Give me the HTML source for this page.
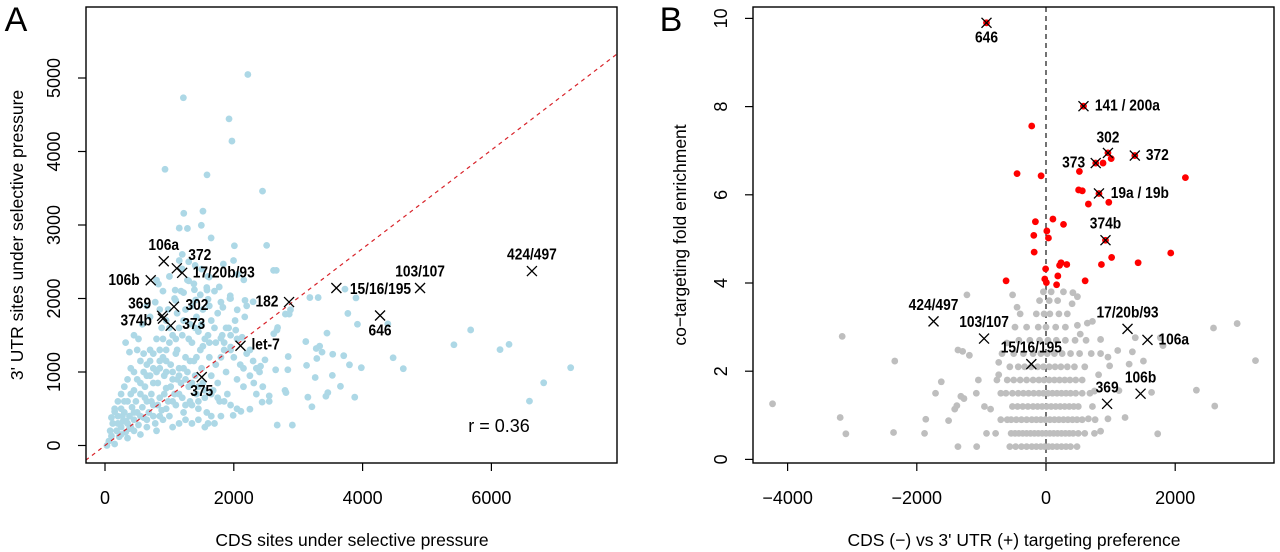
<!DOCTYPE html>
<html><head><meta charset="utf-8">
<style>
html,body{margin:0;padding:0;background:#fff;}
svg{display:block;font-family:"Liberation Sans",Arial,sans-serif;}
.tk{font-size:18px;fill:#000;}
.tt{font-size:17.5px;fill:#000;}
.lb{font-size:16px;font-weight:bold;fill:#000;}
</style></head>
<body>
<svg id="fig" width="1280" height="552" viewBox="0 0 1280 552" xmlns="http://www.w3.org/2000/svg">
</svg>
<script>
// ---------- Panel A data ----------
const aXTicks = [0, 2000, 4000, 6000];
const aYTicks = [0, 1000, 2000, 3000, 4000, 5000];
const aDiagSlope = 0.67;
const aCorrText = "r = 0.36";
const aPoints = [
[2218,5048],[1217,4731],[1926,4444],[1971,4142],[932,3758],[1584,3682],[2446,3461],[1223,3159],[1521,3188],[1153,2958],[1280,2953],[1496,2996],[1648,2824],[2009,2718],[2510,2723],[1996,2517],[1838,2469],[1153,2517],[1198,2402],[2155,2253],[2617,2383],[2660,2383],[2060,2330],[1616,2292],[830,2196],[1300,2240],[1774,2157],[1388,2119],[1220,2080],[1945,2037],[1940,2000],[1584,2114],[1090,2114],[1096,1975],[1407,1980],[1600,1990],[2174,1975],[2300,1956],[2200,1900],[1830,1880],[2053,1846],[2801,1788],[2860,1788],[2880,1846],[3181,2013],[3310,2013],[3726,2128],[3897,2008],[3771,1797],[3920,1650],[4392,1654],[3447,1529],[5418,1371],[5678,1572],[6134,1304],[6274,1376],[4474,1194],[4632,1045],[3980,1059],[3796,1098],[3707,1222],[3536,1242],[3333,1352],[3370,1270],[3280,1320],[3118,1414],[3289,1184],[3530,954],[3656,805],[3878,657],[3460,719],[3430,670],[3150,657],[3213,527],[3264,925],[3130,1090],[7231,1059],[6812,853],[6591,604],[2909,278],[2674,278],[2440,590],[2550,675],[2250,494],[2110,465],[1990,410],[2415,1079],[2310,850],[2484,1165],[2650,1030],[2839,1031],[2845,1210],[2795,750],[2810,720],[2670,1570],[2680,1605],[2620,1520],[2030,1570],[2129,1472],[1950,1340],[1800,1460],[1880,1600],[2170,1750],
[30,0],[60,60],[100,130],[150,20],[180,200],[220,120],[250,250],[200,400],[280,330],[320,180],[350,300],[300,450],[380,400],[400,250],[420,520],[450,350],[480,600],[500,450],[520,280],[550,700],[580,520],[600,380],[620,800],[650,600],[680,450],[700,950],[720,700],[750,550],[780,300],[800,1000],[820,850],[850,650],[880,480],[900,1200],[920,950],[950,780],[980,600],[1000,400],[1020,1100],[1050,900],[1080,700],[1100,550],[1120,1300],[1150,1050],[1180,850],[1200,650],[1220,450],[1250,1200],[1280,1000],[1300,800],[1320,600],[1350,1400],[1380,1150],[1400,950],[1420,700],[1450,500],[1480,1300],[1500,1050],[1520,850],[1550,650],[1580,450],[1600,1500],[1620,1200],[1650,950],[1680,750],[1700,300],[1720,1100],[1750,850],[1780,600],[1800,400],[1850,1300],[1880,1000],[1900,700],[1950,1500],[2000,1200],[2050,900],[2100,1100],[2150,800],[2200,1250],[2250,950],[2300,1150],[2350,700],[2400,1000],
[100,380],[150,460],[200,300],[250,150],[300,600],[350,100],[400,700],[450,200],[500,900],[550,150],[600,1000],[650,250],[700,1150],[750,850],[800,200],[850,1300],[900,350],[950,1150],[1000,1400],[1050,250],[1100,1450],[1150,300],[1200,1500],[1300,1450],[1400,1600],[1500,1650],[1600,300],[1700,1600],[1800,1200],[1100,1250],[1000,1600],[900,1450],[800,1450],[700,1300],[600,1250],[500,1300],[400,1050],[350,900],[300,800],[250,700],[200,600],[150,500],[120,300],[80,200],[450,1000],[550,1150],[650,1100],[750,1050],[850,1050],[950,1000],[1050,1000],[1150,950],[1250,900],[1350,850],[1450,800],[1550,750],[1650,700],[1750,650],[1850,600],[1950,550],[2050,500],[1250,350],[1350,300],[1450,350],[1550,250],[1650,400],[1350,550],[1450,600],[1250,550],[1150,700],[1050,600],[950,500],[850,400],[750,400],[650,350],[550,400],[450,450],[380,230],[330,330],[270,400],[620,650],[720,600],[820,550],[920,700],[1020,800],[1120,900],[1220,1050],[1320,1150],[1420,1200],[1520,1350],[1620,1400],[1720,1400],[1820,1500],[1920,1600],[2020,1700],[1120,1800],[1220,1700],[1320,1650],[1420,1750],[1520,1850],[1620,1900],[950,1300],[850,1150],[750,1250],[650,950],[550,850],[450,750],[350,600],[250,500],[1480,2050],[1380,2200],[1580,2150],[1280,2250],[1180,2100],[1080,2000],[980,1850],[880,1600],
[320,1400],[380,1270],[450,1500],[520,1450],[580,1650],[650,1900],[700,1750],[780,1950],[850,1850],[950,1700],[1050,1500],[1150,1600],[1250,1850],[1350,1900],[1450,1550],[1550,1450],[1650,1700],[1750,1800],[1850,1400],[1950,1300],[2050,1450],[2150,1050],[2250,1300],[2350,1050],[2450,800],[2550,600],[1950,2000],[1800,1950],[1700,2100],[1600,2300],[1500,2400],[1400,2450],[1300,2500],[1200,2600],[1000,2300],[900,2100],[800,2250]
];
const aMarkNames = ["106a","372","17/20b/93","106b","369","374b","302","373","182","15/16/195","103/107","424/497","646","let-7","375"];
const aMarkX = [912,1115,1198,710,887,900,1071,1020,2858,3593,4892,6629,4271,2104,1502];
const aMarkY = [2507,2411,2349,2248,1764,1726,1889,1630,1951,2143,2143,2373,1769,1357,930];
// label layout (pixel offsets, not data)
const aLabelLayout = {"106a":[0,-15.5,"middle"],"372":[11.5,-13,"start"],"17/20b/93":[10.6,0,"start"],"106b":[-11,0,"end"],"369":[-22.5,-12,"middle"],"374b":[-11,2.5,"end"],"302":[11.5,-1,"start"],"373":[11.5,-1,"start"],"182":[-10.6,0,"end"],"15/16/195":[13.5,1.5,"start"],"103/107":[0,-16,"middle"],"424/497":[0,-16,"middle"],"646":[0,15.5,"middle"],"let-7":[11,-1,"start"],"375":[0,14.5,"middle"]};

// ---------- Panel B data ----------
const bXTicks = [-4000, -2000, 0, 2000];
const bYTicks = [0, 2, 4, 6, 8, 10];
const bGrey = [
[-4233,1.26],[-3155,2.79],[-3186,0.95],[-3098,0.58],[-2341,2.23],[-2360,0.61],[-1880,0.59],[-1861,0.91],[-1508,0.88],[-1710,1.5],[-1621,1.76],[-1224,3.73],[-1363,2.48],[-1290,2.45],[-1186,2.36],[-1413,1.14],[-1380,1.22],[-1318,1.43],[-1270,1.38],[-858,1.14],[-953,1.2],[-732,1.92],[-732,2.2],[-681,2.4],[-606,2.64],[-517,3.73],[-448,3.45],
[2959,3.08],[2593,2.98],[3243,2.24],[2328,1.57],[2612,1.21],[1729,0.58],[1634,1.52],[1811,2.58],[1770,2.76],[1508,2.23],[1287,2.16],[1337,2.44],[1382,2.76],[1224,0.95],[1129,1.56],[1110,2.47],[959,2.32],[985,2.12],[959,0.92],[845,0.64],[656,0.92],[719,1.2],[750,1.55],[814,1.92],[845,2.4],[845,2.72],[719,3.13],[640,3.09],[530,2.84],[486,3.04],[486,3.69],[416,3.78],[404,3.53],
[-1363,0.29],[-1073,0.29],[-560,0.29],[-470,0.29],[-380,0.29],[-300,0.29],[-220,0.29],[-150,0.29],[-80,0.29],[-20,0.29],[40,0.29],[100,0.29],[170,0.29],[240,0.29],[310,0.29],[380,0.29],[480,0.29],
[-921,0.59],[-780,0.59],[-540,0.59],[-480,0.59],[-420,0.59],[-360,0.59],[-300,0.59],[-240,0.59],[-180,0.59],[-120,0.59],[-60,0.59],[0,0.59],[60,0.59],[120,0.59],[180,0.59],[240,0.59],[300,0.59],[360,0.59],[420,0.59],[500,0.59],[600,0.59],[750,0.59],
[-700,0.9],[-600,0.9],[-540,0.9],[-460,0.9],[-380,0.9],[-300,0.9],[-220,0.9],[-150,0.9],[-80,0.9],[-10,0.9],[60,0.9],[130,0.9],[200,0.9],[270,0.9],[340,0.9],[410,0.9],[480,0.9],[560,0.9],[760,0.9],
[-520,1.2],[-440,1.2],[-360,1.2],[-280,1.2],[-200,1.2],[-130,1.2],[-60,1.2],[10,1.2],[80,1.2],[150,1.2],[220,1.2],[290,1.2],[360,1.2],[430,1.2],[500,1.2],
[-1079,1.5],[-700,1.5],[-620,1.5],[-520,1.5],[-430,1.5],[-350,1.5],[-270,1.5],[-190,1.5],[-110,1.5],[-40,1.5],[30,1.5],[100,1.5],[170,1.5],[240,1.5],[310,1.5],[380,1.5],[460,1.5],[560,1.5],[680,1.5],
[-1047,1.8],[-760,1.8],[-600,1.8],[-500,1.8],[-400,1.8],[-300,1.8],[-200,1.8],[-110,1.8],[-30,1.8],[50,1.8],[130,1.8],[210,1.8],[290,1.8],[370,1.8],[460,1.8],[560,1.8],
[-560,2.1],[-430,2.1],[-330,2.1],[-230,2.1],[-130,2.1],[-40,2.1],[50,2.1],[140,2.1],[230,2.1],[330,2.1],[440,2.1],[600,2.1],
[-500,2.4],[-350,2.4],[-200,2.4],[-80,2.4],[20,2.4],[130,2.4],[250,2.4],[380,2.4],[520,2.4],[700,2.4],
[-420,2.7],[-250,2.7],[-100,2.7],[30,2.7],[160,2.7],[300,2.7],[450,2.7],[620,2.7],
[-480,3.0],[-300,3.0],[-120,3.0],[0,3.0],[150,3.0],[300,3.0],
[-400,3.3],[-150,3.3],[-30,3.3],[60,3.3],[200,3.3],[330,3.3],
[-100,3.6],[50,3.6],[180,3.6],[-40,3.8],[80,3.8],[270,3.8]
];
const bRed = [
[-221,7.56],[-448,6.48],[-76,6.43],[517,6.53],[505,6.11],[562,6.09],[883,6.72],[1009,6.82],[2158,6.39],[656,5.79],[972,5.83],[-164,5.39],[107,5.45],[271,5.33],[13,5.18],[38,5.02],[-189,5.08],[-183,4.7],[1931,4.68],[1016,4.58],[858,4.42],[1426,4.46],[233,4.46],[322,4.42],[210,4.4],[-6,4.32],[183,4.16],[-618,4.05],[-19,4.09],[6,4.01],[164,3.96],[606,4.05],
[-921,9.9],[580,8.01],[959,6.95],[770,6.72],[1375,6.89],[820,6.03],[921,4.97]
];
const bMarkNames = ["646","141 / 200a","302","373","372","19a / 19b","374b","424/497","103/107","15/16/195","17/20b/93","106a","369","106b"];
const bMarkX = [-921,580,959,770,1375,820,921,-1741,-959,-227,1262,1571,946,1464];
const bMarkY = [9.9,8.01,6.95,6.72,6.89,6.03,4.97,3.13,2.74,2.16,2.96,2.71,1.26,1.49];
const bLabelLayout = {"646":[0,15,"middle"],"141 / 200a":[11.4,0,"start"],"302":[0,-15,"middle"],"373":[-10.6,0,"end"],"372":[11,0,"start"],"19a / 19b":[11.8,0,"start"],"374b":[0,-16,"middle"],"424/497":[0,-16,"middle"],"103/107":[0,-16,"middle"],"15/16/195":[0,-16,"middle"],"17/20b/93":[0,-16,"middle"],"106a":[11,0,"start"],"369":[0,-16,"middle"],"106b":[0,-15.5,"middle"]};

// ---------- rendering ----------
const NS = "http://www.w3.org/2000/svg";
const svg = document.getElementById("fig");
function mk(tag, attrs, parent, text){
  const e = document.createElementNS(NS, tag);
  for (const k in attrs) e.setAttribute(k, attrs[k]);
  if (text !== undefined) e.textContent = text;
  (parent || svg).appendChild(e);
  return e;
}
function condense(t){
  const w = t.getComputedTextLength();
  if (w > 0) {
    t.setAttribute("textLength", (w * 0.86).toFixed(1));
    t.setAttribute("lengthAdjust", "spacingAndGlyphs");
  }
}
const boxA = {l:86, r:617, t:7, b:463};
const boxB = {l:753, r:1274, t:7, b:463};
const axA = x => 105 + x * 0.0644;
const ayA = y => 445.5 - y * 0.0735;
const axB = x => 1046 + x * 0.0646;
const ayB = y => 459.4 - y * 44.1;

function clip(id, box){
  const d = mk("defs", {});
  const c = mk("clipPath", {id:id}, d);
  mk("rect", {x:box.l, y:box.t, width:box.r-box.l, height:box.b-box.t}, c);
}
clip("clipA", boxA); clip("clipB", boxB);

function cross(g, cx, cy){
  const s = 5;
  mk("path", {d:`M${cx-s},${cy-s}L${cx+s},${cy+s}M${cx-s},${cy+s}L${cx+s},${cy-s}`, stroke:"#000", "stroke-width":1.3, fill:"none"}, g);
}

function axes(box, ax, ay, xt, yt, xTitle, yTitle, yLabX, yTitX, xTitX, panel){
  const g = mk("g", {});
  
  
  xt.forEach(v => {
    const x = ax(v);
    mk("line", {x1:x, x2:x, y1:box.b, y2:box.b+8, stroke:"#000", "stroke-width":1.2}, g);
    const t = mk("text", {x:x, y:498, "text-anchor":"middle", "dominant-baseline":"central", class:"tk"}, g, v < 0 ? "\u2212" + Math.abs(v) : String(v));
    
    
  });
  yt.forEach(v => {
    const y = ay(v);
    mk("line", {x1:box.l-8, x2:box.l, y1:y, y2:y, stroke:"#000", "stroke-width":1.2}, g);
    const t = mk("text", {x:yLabX, y:y, "text-anchor":"middle", "dominant-baseline":"central", class:"tk", transform:`rotate(-90 ${yLabX} ${y})`}, g, String(v));
    
    
  });
  const xt1 = mk("text", {x:xTitX, y:540, "text-anchor":"middle", "dominant-baseline":"central", class:"tt"}, g, xTitle);
  
  
  const yc = 235;
  const yt1 = mk("text", {x:yTitX, y:yc, "text-anchor":"middle", "dominant-baseline":"central", class:"tt", transform:`rotate(-90 ${yTitX} ${yc})`}, g, yTitle);
  
  
}

// Panel A
(function(){
  const g = mk("g", {"clip-path":"url(#clipA)"});
  
  
  aPoints.forEach(p => {
    const c = mk("circle", {cx:axA(p[0]), cy:ayA(p[1]), r:3.4, fill:"#add8e6"}, g);
    
    
  });
  const x0 = -400, x1 = 8200;
  const ln = mk("line", {x1:axA(x0), y1:ayA(x0*aDiagSlope), x2:axA(x1), y2:ayA(x1*aDiagSlope), stroke:"#d8232a", "stroke-width":1.2, "stroke-dasharray":"4,4"}, g);
  
  
  const gm = mk("g", {});
  
  
  aMarkNames.forEach((n, i) => {
    const cx = axA(aMarkX[i]), cy = ayA(aMarkY[i]);
    cross(gm, cx, cy);
    const L = aLabelLayout[n];
    const t = mk("text", {x:cx+L[0], y:cy+L[1], "text-anchor":L[2], "dominant-baseline":"central", class:"lb"}, gm, n);
    
    
    condense(t);
  });
  const r = mk("text", {x:499, y:426, "text-anchor":"middle", "dominant-baseline":"central", class:"tk"}, svg, aCorrText);
  
  
  const b = mk("rect", {x:boxA.l, y:boxA.t, width:boxA.r-boxA.l, height:boxA.b-boxA.t, fill:"none", stroke:"#000", "stroke-width":1.4});
  
  
  axes(boxA, axA, ayA, aXTicks, aYTicks, "CDS sites under selective pressure", "3' UTR sites under selective pressure", 54, 17, 352, "panel-a");
  const lt = mk("text", {x:16, y:20, "text-anchor":"middle", "dominant-baseline":"central", style:"font-size:34px"}, svg, "A");
  
  
})();

// Panel B
(function(){
  const g = mk("g", {"clip-path":"url(#clipB)"});
  
  
  const vl = mk("line", {x1:axB(0), x2:axB(0), y1:boxB.t, y2:boxB.b, stroke:"#000", "stroke-width":1.1, "stroke-dasharray":"5,4"}, g);
  
  
  bGrey.forEach(p => {
    const c = mk("circle", {cx:axB(p[0]), cy:ayB(p[1]), r:3.4, fill:"#bebebe"}, g);
    
    
  });
  bRed.forEach(p => {
    const c = mk("circle", {cx:axB(p[0]), cy:ayB(p[1]), r:3.4, fill:"#ff0000"}, g);
    
    
  });
  const gm = mk("g", {});
  
  
  bMarkNames.forEach((n, i) => {
    const cx = axB(bMarkX[i]), cy = ayB(bMarkY[i]);
    cross(gm, cx, cy);
    const L = bLabelLayout[n];
    const t = mk("text", {x:cx+L[0], y:cy+L[1], "text-anchor":L[2], "dominant-baseline":"central", class:"lb"}, gm, n);
    
    
    condense(t);
  });
  const b = mk("rect", {x:boxB.l, y:boxB.t, width:boxB.r-boxB.l, height:boxB.b-boxB.t, fill:"none", stroke:"#000", "stroke-width":1.4});
  
  
  axes(boxB, axB, ayB, bXTicks, bYTicks, "CDS (\u2212) vs 3' UTR (+) targeting preference", "co\u2212targeting fold enrichment", 721, 680, 1014, "panel-b");
  const lt = mk("text", {x:671, y:20, "text-anchor":"middle", "dominant-baseline":"central", style:"font-size:34px"}, svg, "B");
  
  
})();
</script>
</body></html>
